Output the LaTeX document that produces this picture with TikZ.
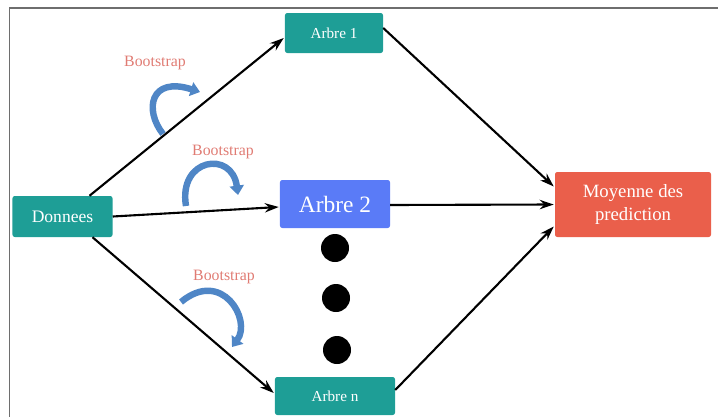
\documentclass[tikz,border=0pt]{standalone}
\usepackage{fontspec}
\setmainfont{Liberation Serif}
\usetikzlibrary{arrows.meta,calc}
\definecolor{teal1}{HTML}{1E9E96}
\definecolor{blue2}{HTML}{5A7BF7}
\definecolor{redm}{HTML}{EA5F4B}
\definecolor{bootc}{HTML}{E07B73}
\definecolor{curvc}{HTML}{4F86C6}
\definecolor{framec}{HTML}{6E6E6E}
\tikzset{
  px/.style={x=0.03cm,y=-0.03cm},
  box/.style={rounded corners=2pt,text=white,inner sep=0pt,align=center},
  conn/.style={line width=1.8pt,black,-{Stealth[length=12pt,width=8pt,inset=4pt]}},
  boot/.style={text=bootc,font=\fontsize{13.5}{15}\selectfont},
  curv/.style={line width=5.5pt,curvc,-{Triangle[length=8pt,width=12pt]}},
  dot/.style={circle,fill=black,minimum size=0.84cm,inner sep=0pt}
}
\begin{document}
\begin{tikzpicture}[px]
\useasboundingbox (0,0) rectangle (718,417);
\draw[framec,line width=1.2pt] (9.5,417) -- (9.5,8) -- (718,8);
% nodes
\node[box,fill=teal1,minimum width=3.0cm,minimum height=1.23cm,font=\fontsize{15}{17}\selectfont] (don) at (62.5,216.5) {Donnees};
\node[box,fill=teal1,minimum width=2.94cm,minimum height=1.2cm,font=\fontsize{13}{15}\selectfont] (a1) at (334,33) {Arbre 1};
\node[box,fill=blue2,minimum width=3.3cm,minimum height=1.44cm,font=\fontsize{20}{23}\selectfont] (a2) at (335,204) {Arbre 2};
\node[box,fill=teal1,minimum width=3.6cm,minimum height=1.14cm,font=\fontsize{13}{15}\selectfont] (an) at (335,396) {Arbre n};
\node[box,fill=redm,minimum width=4.68cm,minimum height=1.95cm,font=\fontsize{16}{19}\selectfont] (moy) at (633,204.5) {Moyenne des\\prediction};
% dots
\node[dot] (d1) at (335,248) {};
\node[dot] (d2) at (336,298) {};
\node[dot] (d3) at (337,350) {};
% connectors
\draw[conn] ($(don.north)+(27,0)$) -- ($(a1.west)+(-1,5)$);
\draw[conn] (don.east) -- ($(a2.west)+(-1,3)$);
\draw[conn] ($(don.south)+(30,0)$) -- ($(an.west)+(-1,-3)$);
\draw[conn] ($(a1.east)+(0,-5)$) -- ($(moy.west)+(-1,-18)$);
\draw[conn] ($(a2.east)+(0,1)$) -- ($(moy.west)+(-1,0)$);
\draw[conn] ($(an.east)+(0,-6)$) -- ($(moy.west)+(-1,22)$);
% bootstrap labels
\node[boot] (b1) at (155,63) {Bootstrap};
\node[boot] (b2) at (223,152) {Bootstrap};
\node[boot] (b3) at (224,277) {Bootstrap};
% curved arrows
\draw[curv] (163,134) .. controls (144,110) and (150,76) .. (200,92);
\draw[curv] (186,206) .. controls (178,158) and (232,150) .. (238,195);
\draw[curv] (181,302) .. controls (222,268) and (252,320) .. (232,347);
\end{tikzpicture}
\end{document}
